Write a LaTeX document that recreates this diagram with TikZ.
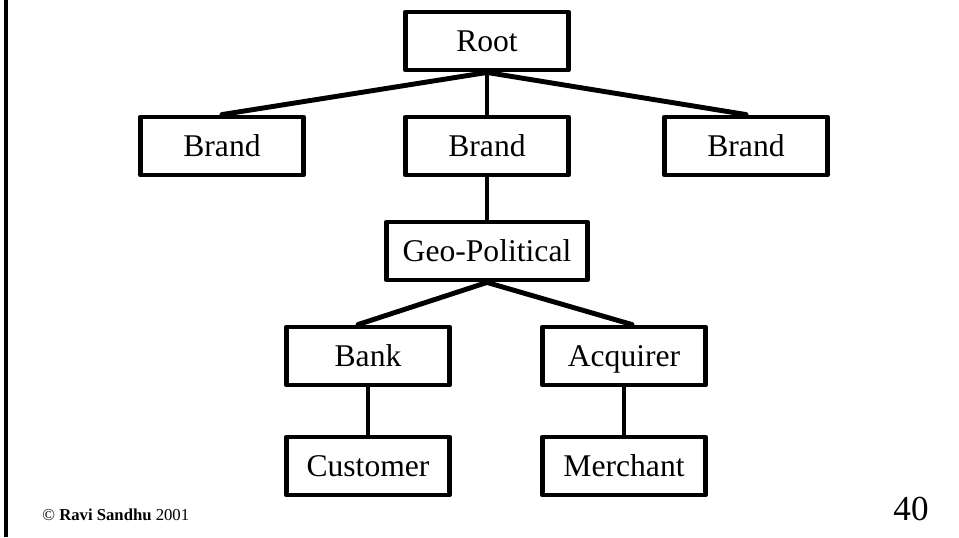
\documentclass[tikz,border=0pt]{standalone}
\usepackage{fontspec}
\setmainfont{Liberation Serif}
\usetikzlibrary{positioning}
\tikzset{
    hierarchy/.style={
        x=0.02cm, y=-0.02cm,
        line width=2.8pt, line join=round,
        % box for each level of the hierarchy
        level/.style={draw, rectangle, align=center,
                      minimum width=3.26cm, minimum height=1.16cm,
                      text height=12pt, text depth=0pt,
                      inner sep=2pt, font=\fontsize{18}{22}\selectfont},
        % wider box
        widelevel/.style={level, minimum width=4.02cm},
        % tree edges
        edge/.style={line width=2.8pt, line cap=round}
    }
}
\begin{document}
\begin{tikzpicture}[hierarchy]
  \useasboundingbox (0,0) rectangle (959,537);
  % frame
  \draw[line width=2pt] (6,0) -- (6,537);
  % Nodi
  \node[level] (root) at (487,41) {Root};
  \node[level] (brandl) at (222,146) {Brand};
  \node[level] (brandm) at (487,146) {Brand};
  \node[level] (brandr) at (746,146) {Brand};
  \node[widelevel] (geo) at (487,251) {Geo-Political};
  \node[level] (bank) at (368,356) {Bank};
  \node[level] (acq) at (624,356) {Acquirer};
  \node[level] (cust) at (368,466) {Customer};
  \node[level] (merch) at (624,466) {Merchant};

  \draw[edge] (root.south) -- (brandl.north);
  \draw[edge] (root.south) -- (brandm.north);
  \draw[edge] (root.south) -- (brandr.north);
  \draw[edge] (brandm) -- (geo);
  \draw[edge] (geo.south) -- ([xshift=-0.2cm]bank.north);
  \draw[edge] (geo.south) -- ([xshift=0.16cm]acq.north);
  \draw[edge] (bank) -- (cust);
  \draw[edge] (acq) -- (merch);

  % footer
  \node[anchor=base west, inner sep=0pt, font=\fontsize{9.5}{11}\selectfont] (copy) at (40,520)
    {\textcopyright{} \textbf{Ravi Sandhu} 2001};
  \node[anchor=base, inner sep=0pt, font=\fontsize{20}{24}\selectfont] (page) at (911,520) {40};
\end{tikzpicture}
\end{document}
